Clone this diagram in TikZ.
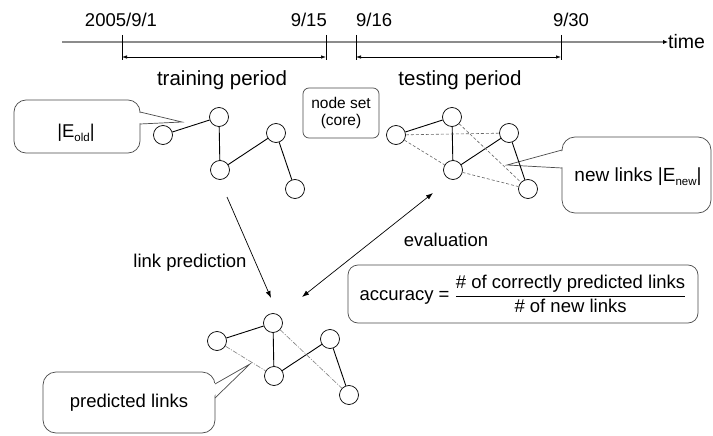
\documentclass[tikz,border=0pt]{standalone}
\usepackage{fontspec}
\usepackage{amsmath}
\setmainfont{Liberation Sans}
\usetikzlibrary{arrows.meta}
\newcommand\lowtxt[1]{\raisebox{-0.4ex}{\fontsize{11.5}{12}\selectfont #1}}
\newcommand\graphfive{%
  \node[vert] (a) at (163,135) {};
  \node[vert] (b) at (219,117) {};
  \node[vert] (c) at (276,133) {};
  \node[vert] (d) at (220,170) {};
  \node[vert] (e) at (295,189) {};
  \draw[edge] (a) -- (b);
  \draw[edge] (b) -- (d);
  \draw[edge] (d) -- (c);
  \draw[edge] (c) -- (e);
}
\begin{document}
\begin{tikzpicture}[x=1pt,y=-1pt,
  vert/.style={circle,draw,fill=white,minimum size=19pt,inner sep=0pt,line width=0.7pt},
  edge/.style={line width=0.9pt},
  newedge/.style={draw=black!60,line width=0.6pt,dash pattern=on 3pt off 2pt},
  prededge/.style={draw=black!50,line width=0.6pt,dash pattern=on 5pt off 1.5pt on 1pt off 1.5pt},
  bubble/.style={draw=black!70,line width=0.7pt},
  lbl/.style={font=\fontsize{18.5}{20}\selectfont,inner sep=0pt},
  biglbl/.style={font=\fontsize{20.5}{22}\selectfont,inner sep=0pt},
  tick/.style={line width=0.6pt},
  span/.style={line width=0.7pt,{Latex[length=5pt,width=3.5pt]}-{Latex[length=5pt,width=3.5pt]}},
  flow/.style={line width=0.7pt,-{Latex[length=7pt,width=5pt]}},
  flow2/.style={line width=0.7pt,{Latex[length=7pt,width=5pt]}-{Latex[length=7pt,width=5pt]}}
]
\useasboundingbox (0,0) rectangle (713,436);
\fill[white] (0,0) rectangle (713,436);

% timeline
\coordinate (tl0) at (62,42);
\node[lbl,anchor=west,font=\fontsize{19.5}{20}\selectfont] (time) at (668,42) {time};
\draw[draw=black!45,line width=1.4pt,-{Latex[black,length=5pt,width=4.5pt]}] (tl0) -- (time.west);

\node[lbl] (d1) at (121,20) {2005/9/1};
\node[lbl,anchor=east] (d15) at (327,20) {9/15};
\node[lbl,anchor=west] (d16) at (356,20) {9/16};
\node[lbl] (d30) at (571,20) {9/30};

\coordinate (t1a) at (122,35); \coordinate (t1b) at (122,60);
\coordinate (t2a) at (326,35); \coordinate (t2b) at (326,60);
\coordinate (t3a) at (356,35); \coordinate (t3b) at (356,60);
\coordinate (t4a) at (561,35); \coordinate (t4b) at (561,60);
\draw[tick] (t1a) -- (t1b);
\draw[tick] (t2a) -- (t2b);
\draw[tick] (t3a) -- (t3b);
\draw[tick] (t4a) -- (t4b);
\coordinate (s1a) at (122,57); \coordinate (s1b) at (326,57);
\coordinate (s2a) at (356,57); \coordinate (s2b) at (561,57);
\draw[span] (s1a) -- (s1b);
\draw[span] (s2a) -- (s2b);

\node[biglbl] (train) at (222,80) {training period};
\node[biglbl] (test) at (460,80) {testing period};

% node set box
\node[draw=black!70,line width=0.7pt,rounded corners=6pt,minimum width=76pt,minimum height=50pt,
  align=center,font=\fontsize{15.5}{17.5}\selectfont,inner sep=0pt] (core) at (341,113) {node set\\(core)};

% E_old bubble
\coordinate (eoldtip) at (182,122);
\draw[bubble,fill=white,rounded corners=12pt] (14,100) rectangle (140,153);
\fill[white] (137,112.5) -- (eoldtip) -- (137,123.5) -- cycle;
\draw[bubble] (140,112) -- (eoldtip) -- (140,124);
\node[lbl] (eold) at (76,133) {|E\lowtxt{old}|};

% new links bubble
\coordinate (enewtip) at (507,165);
\draw[bubble,fill=white,rounded corners=13pt] (562,137) rectangle (711,213);
\fill[white] (565,150.5) -- (enewtip) -- (565,167.5) -- cycle;
\draw[bubble] (562,150) -- (enewtip) -- (562,168);
\node[lbl,font=\fontsize{19}{20}\selectfont] (enew) at (638,177) {new links |E\lowtxt{new}|};

% predicted links bubble
\coordinate (plinkstip) at (250,364);
\draw[bubble,fill=white,rounded corners=13pt] (43,372) rectangle (215,433);
\fill[white] (212,384.5) -- (plinkstip) -- (212,397.5) -- cycle;
\draw[bubble] (215,384) -- (plinkstip) -- (215,398);
\node[lbl] (plinks) at (129,403) {predicted links};

% graph 1 (training)
\begin{scope}[name prefix=g1-]
\graphfive
\end{scope}

% graph 2 (testing)
\begin{scope}[shift={(233,0)},name prefix=g2-]
\graphfive
\draw[newedge] (a) -- (c);
\draw[newedge] (a) -- (d);
\draw[newedge] (b) -- (e);
\draw[newedge] (d) -- (e);
\end{scope}

% graph 3 (predicted)
\begin{scope}[shift={(54,206)},name prefix=g3-]
\graphfive
\draw[prededge] (a) -- (d);
\draw[prededge] (b) -- (e);
\end{scope}

% arrows
\coordinate (lp0) at (227,197);
\coordinate (lp1) at (271,298);
\draw[flow] (lp0) -- (lp1);
\node[lbl] (lpl) at (190,263) {link prediction};

\coordinate (ev0) at (433,193);
\coordinate (ev1) at (302,297);
\draw[flow2] (ev1) -- (ev0);
\node[lbl] (evl) at (446,240) {evaluation};

% accuracy box
\node[draw=black!70,line width=0.7pt,rounded corners=10pt,minimum width=350pt,minimum height=58pt,
  font=\fontsize{18.5}{20}\selectfont,inner sep=0pt] (acc) at (523,294)
  {accuracy = $\dfrac{\text{\# of correctly predicted links}}{\text{\# of new links}}$};
\end{tikzpicture}
\end{document}
